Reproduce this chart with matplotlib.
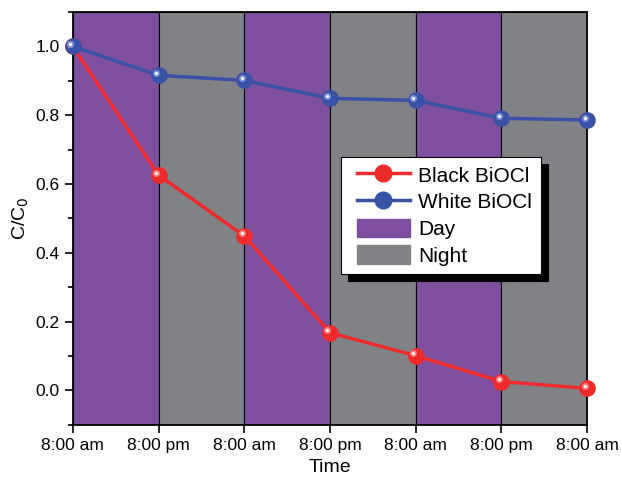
import numpy as np
import matplotlib
matplotlib.use('Agg')
import matplotlib.pyplot as plt
from matplotlib.lines import Line2D
from matplotlib.patches import Patch
from matplotlib.legend_handler import HandlerLine2D, HandlerPatch
from matplotlib.ticker import MultipleLocator
from matplotlib.transforms import offset_copy

plt.rcParams['font.family'] = ['Liberation Sans', 'DejaVu Sans']

# datos
tick_labels = ['8:00 am', '8:00 pm', '8:00 am', '8:00 pm', '8:00 am', '8:00 pm', '8:00 am']
periods = ['Day', 'Night', 'Day', 'Night', 'Day', 'Night']
black_biocl = [1.0, 0.626, 0.449, 0.168, 0.101, 0.026, 0.006]
white_biocl = [1.0, 0.916, 0.901, 0.849, 0.843, 0.791, 0.786]

day_color = '#7f4f9f'
night_color = '#808285'
red = '#ee2a2a'
blue = '#3a51a8'

fig = plt.figure(figsize=(6.22, 4.79), dpi=100)
ax = fig.add_axes([0.117, 0.113, 0.827, 0.862])

x = np.arange(len(tick_labels))
for i, p in enumerate(periods):
    ax.axvspan(i, i + 1, facecolor=day_color if p == 'Day' else night_color,
               edgecolor='black', linewidth=0.8, zorder=0)

shine = offset_copy(ax.transData, fig=fig, x=-1.8, y=1.8, units='points')
for ys, c, light in [(black_biocl, red, '#ff8080'), (white_biocl, blue, '#8090d8')]:
    ax.plot(x, ys, color=c, linewidth=2.5, marker='o', markersize=12,
            markeredgewidth=0, clip_on=False, zorder=3)
    # brillo de la esfera
    ax.plot(x, ys, linestyle='none', marker='o', markersize=5, markeredgewidth=0,
            color=light, clip_on=False, zorder=4, transform=shine)
    ax.plot(x, ys, linestyle='none', marker='o', markersize=2.2, markeredgewidth=0,
            color='white', clip_on=False, zorder=5, transform=shine)

ax.set_xlim(0, 6)
ax.set_ylim(-0.1, 1.1)
ax.set_xticks(x)
ax.set_xticklabels(tick_labels)
ax.yaxis.set_major_locator(MultipleLocator(0.2))
ax.yaxis.set_minor_locator(MultipleLocator(0.1))
ax.tick_params(axis='both', direction='out', labelsize=12.5, width=1.2)
ax.tick_params(axis='both', which='major', length=6)
ax.tick_params(axis='y', which='minor', length=3.5, width=1.2)
for s in ax.spines.values():
    s.set_linewidth(1.3)

ax.set_xlabel('Time', fontsize=14, labelpad=4)
ax.set_ylabel('C/C$_0$', fontsize=14, labelpad=3)

handles = [
    Line2D([], [], color=red, linewidth=2.5, marker='o', markersize=12),
    Line2D([], [], color=blue, linewidth=2.5, marker='o', markersize=12),
    Patch(facecolor=day_color, edgecolor=day_color),
    Patch(facecolor=night_color, edgecolor=night_color),
]
hmap = {Line2D: HandlerLine2D(xpad=0.37), Patch: HandlerPatch(xpad=0.37)}
leg = ax.legend(handles, ['Black BiOCl', 'White BiOCl', 'Day', 'Night'],
                handler_map=hmap,
                loc='upper left', bbox_to_anchor=(0.521, 0.649), borderaxespad=0,
                fontsize=15, fancybox=False, framealpha=1, edgecolor='black',
                shadow={'color': 'black', 'alpha': 1, 'ox': 5, 'oy': -5},
                handlelength=2.9, handleheight=1.0, labelspacing=0.3,
                borderpad=0.4, handletextpad=0.43)
leg.get_frame().set_linewidth(0.8)

fig.savefig('out.png', dpi=100)
